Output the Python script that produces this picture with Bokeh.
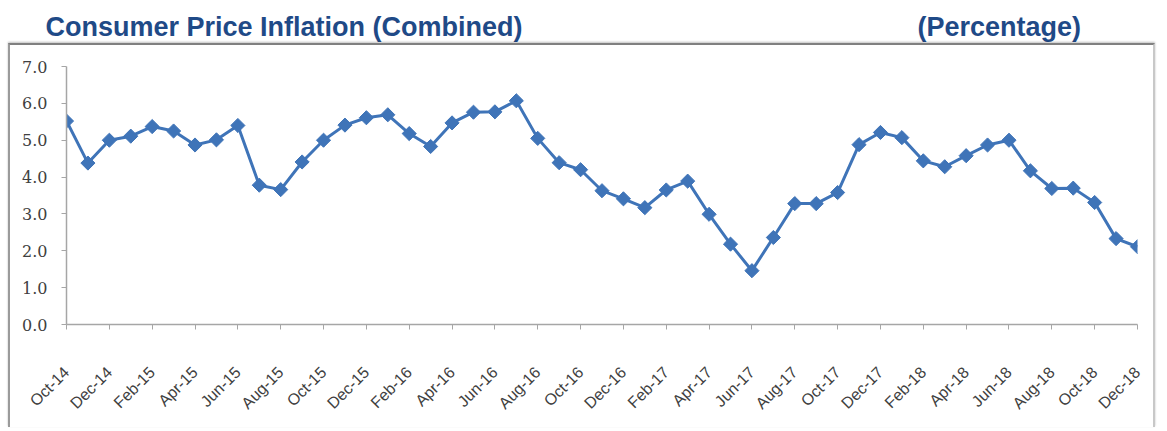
import numpy as np
from bokeh.plotting import figure
from bokeh.layouts import column, row
from bokeh.models import Range1d, FixedTicker, NumeralTickFormatter, Label, Spacer
from bokeh.embed import file_html
from bokeh.resources import INLINE

# ---- data ----
months = ["Oct-14", "Nov-14", "Dec-14",
          "Jan-15", "Feb-15", "Mar-15", "Apr-15", "May-15", "Jun-15",
          "Jul-15", "Aug-15", "Sep-15", "Oct-15", "Nov-15", "Dec-15",
          "Jan-16", "Feb-16", "Mar-16", "Apr-16", "May-16", "Jun-16",
          "Jul-16", "Aug-16", "Sep-16", "Oct-16", "Nov-16", "Dec-16",
          "Jan-17", "Feb-17", "Mar-17", "Apr-17", "May-17", "Jun-17",
          "Jul-17", "Aug-17", "Sep-17", "Oct-17", "Nov-17", "Dec-17",
          "Jan-18", "Feb-18", "Mar-18", "Apr-18", "May-18", "Jun-18",
          "Jul-18", "Aug-18", "Sep-18", "Oct-18", "Nov-18", "Dec-18"]
cpi = [5.52, 4.38, 5.00,
       5.11, 5.37, 5.25, 4.87, 5.01, 5.40,
       3.78, 3.66, 4.41, 5.00, 5.41, 5.61,
       5.69, 5.18, 4.83, 5.47, 5.76, 5.77,
       6.07, 5.05, 4.39, 4.20, 3.63, 3.41,
       3.17, 3.65, 3.89, 2.99, 2.18, 1.46,
       2.36, 3.28, 3.28, 3.58, 4.88, 5.21,
       5.07, 4.44, 4.28, 4.58, 4.87, 5.00,
       4.17, 3.69, 3.70, 3.31, 2.33, 2.11]
y_ticks = [0, 1, 2, 3, 4, 5, 6, 7]
title_left = "Consumer Price Inflation (Combined)"
title_right = "(Percentage)"

idx = list(range(len(months)))
label_idx = idx[::2]

TITLE_COLOR = "#1F4A87"
SERIES = "#3F74B8"
AXIS = "#A6A6A6"

# ---- header with the titles ----
head = figure(width=1151, height=43, x_range=Range1d(0, 1151), y_range=Range1d(0, 43),
              x_axis_type=None, y_axis_type=None, toolbar_location=None,
              output_backend="svg", min_border=0, min_border_left=0,
              min_border_right=0, min_border_top=0, min_border_bottom=0,
              outline_line_color=None)
head.xgrid.visible = False
head.ygrid.visible = False
for txt, xx in [(title_left, 37), (title_right, 909)]:
    head.add_layout(Label(x=xx, y=17, text=txt, text_font="Liberation Sans",
                          text_font_style="bold", text_font_size="27px",
                          text_color=TITLE_COLOR, text_baseline="alphabetic"))

# ---- main chart ----
p = figure(width=1147, height=384, x_range=Range1d(0, len(months) - 1),
           y_range=Range1d(0, 7), toolbar_location=None, output_backend="svg",
           min_border_left=56, min_border_right=20, min_border_top=21,
           min_border_bottom=105, outline_line_color=None)
p.styles = {"border-top": "2px solid #808080", "border-left": "2px solid #9a9a9a",
            "border-right": "2px solid #c8c8c8",
            "box-shadow": "0px -1px 2px rgba(0,0,0,0.25)"}
p.xgrid.visible = False
p.ygrid.visible = False

p.line(idx, cpi, line_color=SERIES, line_width=3)
p.scatter(idx, cpi, marker="square", angle=np.pi / 4, size=10,
          fill_color=SERIES, line_color=SERIES)

p.xaxis.ticker = FixedTicker(ticks=label_idx)
p.xaxis.major_label_overrides = {i: months[i] for i in label_idx}
p.xaxis.major_label_orientation = np.pi / 4
p.xaxis.major_label_standoff = 40
p.xaxis.major_label_text_font = "Liberation Sans"
p.xaxis.major_label_text_font_size = "16px"
p.xaxis.major_label_text_color = "#404040"

p.yaxis.ticker = FixedTicker(ticks=y_ticks)
p.yaxis.formatter = NumeralTickFormatter(format="0.0")
p.yaxis.major_label_text_font = "DejaVu Serif"
p.yaxis.major_label_text_font_size = "16px"
p.yaxis.major_label_text_color = "#404040"
p.yaxis.major_label_standoff = 14

for ax in (p.xaxis, p.yaxis):
    ax.axis_line_color = AXIS
    ax.axis_line_width = 1.5
    ax.major_tick_line_color = AXIS
    ax.major_tick_out = 5
    ax.major_tick_in = 0
    ax.minor_tick_line_color = None

layout = column(row(Spacer(width=8), head), row(Spacer(width=8), p), spacing=0)
open("out.html", "w").write(file_html(layout, INLINE))
